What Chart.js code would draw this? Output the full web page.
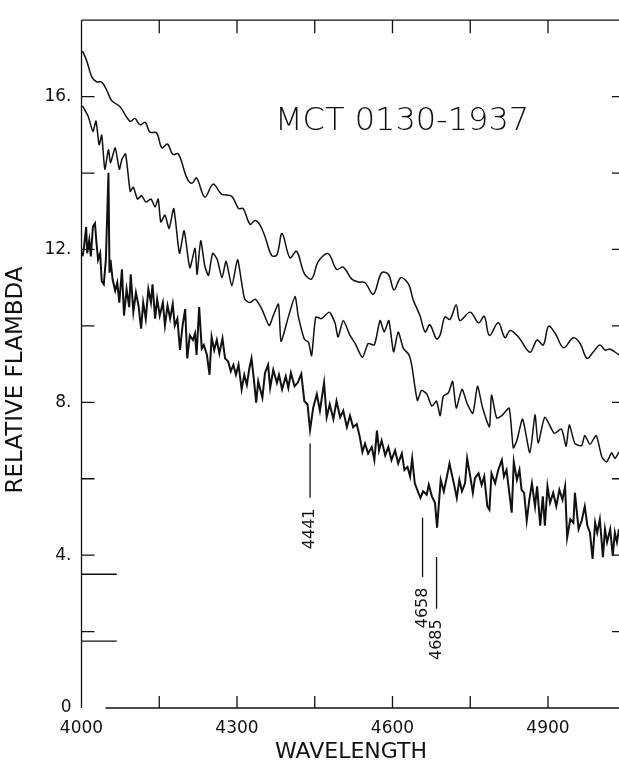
<!DOCTYPE html>
<html>
<head>
<meta charset="utf-8">
<script src="https://cdn.jsdelivr.net/npm/chart.js@4.4.1/dist/chart.umd.min.js"></script>
<style>
  html, body { margin: 0; padding: 0; background: #fff; }
  #wrap { width: 619px; height: 767px; position: relative; }
</style>
</head>
<body>
<div id="wrap"><canvas id="spectrumChart"></canvas></div>
<script>
// MCT 0130-1937 spectra: [wavelength, relative flambda]

// upper trace (low resolution)
const upperSpectrum = [
  [4002,17.19],[4010,16.94],[4020,16.51],[4029,16.39],[4039,16.38],[4049,16.16],[4058,15.90],
  [4074,15.74],[4094,15.35],[4103,15.43],[4113,15.26],[4123,15.33],[4132,15.07],[4145,15.05],
  [4155,14.66],[4166,14.76],[4176,14.49],[4187,14.50],[4203,13.88],[4213,13.73],[4222,13.87],
  [4238,13.37],[4254,13.71],[4270,13.45],[4290,13.39],[4303,13.07],[4312,13.07],[4325,12.66],
  [4335,12.76],[4344,12.65],[4354,12.34],[4367,11.84],[4377,11.86],[4387,12.42],[4402,11.78],
  [4415,11.95],[4430,11.37],[4444,11.23],[4457,11.69],[4476,11.89],[4492,11.48],[4505,11.54],
  [4521,11.23],[4534,11.15],[4547,11.13],[4563,10.83],[4579,11.39],[4592,11.35],[4603,10.94],
  [4616,11.26],[4631,11.09],[4640,10.68],[4653,10.27],[4663,9.84],[4672,10.03],[4685,9.66],
  [4692,9.77],[4701,10.23],[4711,10.17],[4723,10.55],[4730,10.14],[4750,10.36],[4766,10.08],
  [4777,10.25],[4787,9.75],[4804,10.08],[4817,9.69],[4827,9.88],[4843,9.71],[4865,9.31],
  [4879,9.63],[4891,9.50],[4901,9.99],[4914,9.80],[4930,9.43],[4949,9.69],[4962,9.54],
  [4975,9.15],[4987,9.31],[5000,9.50],[5010,9.37],[5020,9.39],[5037,9.24]
];

// middle trace
const middleSpectrum = [
  [4002,15.76],[4013,15.48],[4022,15.09],[4028,15.36],[4034,14.74],[4039,14.99],[4045,14.10],
  [4052,14.61],[4056,14.27],[4065,14.66],[4073,14.10],[4078,14.36],[4085,14.50],[4094,13.52],
  [4100,13.63],[4108,13.32],[4116,13.41],[4124,13.24],[4134,13.32],[4142,13.11],[4148,13.32],
  [4153,12.72],[4161,12.90],[4169,12.55],[4178,13.07],[4189,11.90],[4198,12.49],[4209,11.52],
  [4219,12.03],[4223,11.35],[4230,12.23],[4238,11.56],[4245,11.32],[4253,11.90],[4262,11.73],
  [4271,11.26],[4279,11.69],[4290,11.05],[4301,11.73],[4309,11.13],[4315,10.70],[4325,10.61],
  [4335,10.70],[4348,10.44],[4362,10.01],[4370,10.27],[4380,10.57],[4385,9.60],[4399,10.23],
  [4412,10.77],[4418,10.27],[4430,9.65],[4438,9.57],[4444,9.22],[4452,10.23],[4463,10.19],
  [4478,10.36],[4489,10.08],[4495,9.71],[4505,10.14],[4518,9.75],[4528,9.54],[4542,9.17],
  [4553,9.54],[4565,9.50],[4576,10.14],[4584,9.84],[4593,10.14],[4602,9.32],[4611,9.84],
  [4621,9.41],[4631,9.26],[4637,8.98],[4648,8.05],[4656,8.31],[4666,8.22],[4676,7.90],
  [4685,8.03],[4692,7.65],[4698,8.16],[4708,8.25],[4716,8.55],[4723,7.85],[4734,8.34],
  [4744,7.97],[4755,7.71],[4764,8.42],[4774,7.85],[4787,7.36],[4791,8.19],[4801,7.59],
  [4811,7.65],[4825,7.85],[4833,6.81],[4840,7.00],[4851,7.56],[4865,6.68],[4875,7.67],
  [4881,6.93],[4894,7.61],[4912,7.19],[4926,7.30],[4935,6.85],[4941,7.41],[4952,6.92],
  [4965,6.87],[4971,7.13],[4981,6.90],[4993,7.13],[5004,6.57],[5013,6.44],[5023,6.68],
  [5029,6.53],[5037,6.70]
];

// lower trace (high resolution, noisy)
const lowerSpectrum = [
  [4002,11.82],[4005,12.08],[4009,12.59],[4011,11.90],[4015,12.25],[4018,11.82],[4022,12.59],
  [4026,12.68],[4029,12.16],[4032,11.73],[4036,11.90],[4039,11.17],[4043,11.09],[4047,11.73],
  [4052,14.01],[4054,11.39],[4056,11.73],[4060,11.22],[4065,10.92],[4069,11.13],[4073,10.61],
  [4078,11.48],[4082,10.27],[4087,10.96],[4092,10.49],[4095,11.35],[4100,10.36],[4105,10.87],
  [4110,10.53],[4115,9.93],[4119,10.61],[4124,10.19],[4129,10.96],[4134,10.61],[4137,11.09],
  [4142,10.19],[4146,10.70],[4151,10.27],[4157,10.61],[4161,10.01],[4166,10.53],[4171,10.19],
  [4176,10.57],[4180,10.01],[4185,10.19],[4190,9.37],[4195,10.01],[4200,10.44],[4204,9.15],
  [4209,9.75],[4215,9.63],[4219,9.80],[4222,9.24],[4227,10.49],[4232,9.41],[4236,9.50],
  [4242,9.24],[4247,8.72],[4251,9.71],[4256,9.37],[4261,9.63],[4266,9.28],[4272,9.67],
  [4277,9.15],[4283,9.07],[4288,8.81],[4293,8.98],[4298,8.72],[4303,8.98],[4309,8.34],
  [4314,8.72],[4319,8.46],[4324,8.90],[4328,9.15],[4333,8.55],[4337,7.99],[4341,8.55],
  [4344,8.38],[4349,8.12],[4354,8.77],[4360,8.98],[4364,8.38],[4370,8.85],[4377,8.51],
  [4381,8.72],[4387,8.34],[4394,8.68],[4399,8.38],[4404,8.77],[4411,8.42],[4417,8.51],
  [4424,8.74],[4430,8.03],[4436,7.95],[4441,7.28],[4447,7.86],[4454,8.21],[4460,7.78],
  [4468,8.51],[4473,7.61],[4479,7.95],[4486,7.56],[4492,8.03],[4499,7.61],[4505,7.78],
  [4512,7.35],[4518,7.65],[4524,7.35],[4531,7.43],[4537,7.09],[4542,6.70],[4547,6.92],
  [4553,6.66],[4560,6.83],[4565,6.49],[4570,7.26],[4574,6.74],[4579,7.00],[4586,6.61],
  [4592,6.83],[4598,6.49],[4605,6.74],[4611,6.40],[4618,6.66],[4623,6.23],[4629,6.31],
  [4634,6.06],[4638,6.53],[4643,5.88],[4650,5.63],[4654,5.50],[4659,5.67],[4666,5.58],
  [4670,5.84],[4676,5.54],[4682,5.37],[4686,4.72],[4693,5.97],[4699,5.67],[4705,6.06],
  [4710,6.40],[4714,6.14],[4719,5.84],[4724,5.50],[4729,5.97],[4734,5.67],[4740,5.88],
  [4744,6.53],[4750,6.06],[4755,5.63],[4759,6.01],[4766,6.14],[4772,5.84],[4777,6.06],
  [4783,5.28],[4787,5.19],[4791,6.14],[4798,5.88],[4804,6.23],[4811,6.49],[4815,6.06],
  [4820,6.23],[4827,5.45],[4830,5.11],[4834,6.44],[4840,5.97],[4845,6.23],[4849,5.71],
  [4854,5.63],[4859,4.90],[4864,5.45],[4869,5.88],[4875,5.28],[4879,5.80],[4885,4.77],
  [4890,5.54],[4894,4.77],[4899,5.80],[4904,5.37],[4910,5.63],[4916,5.28],[4922,5.71],
  [4928,5.45],[4933,5.80],[4937,4.46],[4943,4.94],[4949,4.85],[4952,5.63],[4959,4.68],
  [4965,4.90],[4971,5.28],[4976,4.77],[4981,4.59],[4986,3.90],[4991,4.85],[4995,4.59],
  [5000,4.94],[5006,3.95],[5010,4.68],[5014,4.34],[5020,4.68],[5025,3.99],[5029,4.59],
  [5033,4.34],[5037,4.68]
];

// zero-level markers on the left axis
const zeroLevels = [3.5, 1.75];
const zeroLevelEnd = 4068;

// identified lines: wavelength, top and bottom of the marker bar
const lineWaves = [4441, 4658, 4685];
const lineTops = [6.92, 4.98, 3.95];
const lineBottoms = [5.50, 3.43, 2.60];

// axis ticks
const xTickLabels = [4000, 4300, 4600, 4900];
const xTickMarks = [4150, 4300, 4450, 4600, 4750, 4900];
const yTickLabels = [0, 4, 8, 12, 16];
const yTickMarks = [2, 4, 6, 8, 10, 12, 14, 16];

const INK = '#111';
const FONT = '"DejaVu Sans", sans-serif';

function toPoints(arr) {
  return arr.map(p => ({ x: p[0], y: p[1] }));
}

const datasets = [
  { data: toPoints(upperSpectrum), borderWidth: 1.5, tension: 0.35 },
  { data: toPoints(middleSpectrum), borderWidth: 1.5, tension: 0.2 },
  { data: toPoints(lowerSpectrum), borderWidth: 2, tension: 0 }
];
zeroLevels.forEach(v => {
  datasets.push({ data: [{ x: 4000, y: v }, { x: zeroLevelEnd, y: v }], borderWidth: 1.3, tension: 0 });
});
lineWaves.forEach((w, i) => {
  datasets.push({ data: [{ x: w, y: lineTops[i] }, { x: w, y: lineBottoms[i] }], borderWidth: 1.3, tension: 0 });
});
datasets.forEach(d => {
  d.borderColor = INK;
  d.pointRadius = 0;
  d.fill = false;
});

// frame, inward ticks and the loose text
const framePlugin = {
  id: 'frame',
  afterDraw(chart) {
    const ctx = chart.ctx;
    const a = chart.chartArea;
    const xs = chart.scales.x;
    const ys = chart.scales.y;
    ctx.save();
    ctx.strokeStyle = INK;
    ctx.lineWidth = 1.3;
    ctx.beginPath();
    ctx.moveTo(a.left, a.top); ctx.lineTo(a.left, a.bottom);
    ctx.moveTo(a.left, a.top); ctx.lineTo(a.right, a.top);
    ctx.moveTo(a.left + 24, a.bottom); ctx.lineTo(a.right, a.bottom);
    yTickMarks.forEach(v => {
      const py = ys.getPixelForValue(v);
      ctx.moveTo(a.left, py); ctx.lineTo(a.left + 13, py);
      ctx.moveTo(a.right - 7, py); ctx.lineTo(a.right, py);
    });
    xTickMarks.forEach(v => {
      const px = xs.getPixelForValue(v);
      ctx.moveTo(px, a.top); ctx.lineTo(px, a.top + 13);
      ctx.moveTo(px, a.bottom); ctx.lineTo(px, a.bottom - 12);
    });
    ctx.stroke();

    ctx.fillStyle = INK;
    // object name
    ctx.font = '200 32px ' + FONT;
    ctx.textAlign = 'left';
    ctx.textBaseline = 'alphabetic';
    ctx.fillText('MCT 0130-1937', 275, 130);

    // x title
    ctx.font = '22px ' + FONT;
    ctx.textAlign = 'center';
    ctx.textBaseline = 'middle';
    ctx.fillText('WAVELENGTH', 351, 752);

    // y title
    ctx.font = '23px ' + FONT;
    ctx.save();
    ctx.translate(16, 380);
    ctx.rotate(-Math.PI / 2);
    ctx.fillText('RELATIVE FLAMBDA', 0, 0);
    ctx.restore();

    // line identifications
    ctx.font = '16px ' + FONT;
    lineWaves.forEach((w, i) => {
      const px = xs.getPixelForValue(w);
      const py = ys.getPixelForValue(lineBottoms[i]) + 31;
      ctx.save();
      ctx.translate(px, py);
      ctx.rotate(-Math.PI / 2);
      ctx.fillText(String(w), 0, 0);
      ctx.restore();
    });
    ctx.restore();
  }
};

new Chart(document.getElementById('spectrumChart'), {
  type: 'line',
  data: { datasets: datasets },
  options: {
    responsive: true,
    maintainAspectRatio: false,
    animation: false,
    events: [],
    layout: { padding: { top: 10, right: 0, left: 0, bottom: 0 } },
    plugins: { legend: { display: false }, tooltip: { enabled: false } },
    scales: {
      x: {
        type: 'linear',
        min: 4000,
        max: 5037,
        grid: { display: false, drawTicks: false },
        border: { display: false },
        afterBuildTicks: s => { s.ticks = xTickLabels.map(v => ({ value: v })); },
        afterFit: s => { s.height = 59; },
        ticks: {
          color: INK,
          font: { family: FONT, size: 17 },
          padding: 10,
          maxRotation: 0,
          autoSkip: false,
          callback: v => String(v)
        }
      },
      y: {
        min: 0,
        max: 18,
        grid: { display: false, drawTicks: false },
        border: { display: false },
        afterBuildTicks: s => { s.ticks = yTickLabels.map(v => ({ value: v })); },
        afterFit: s => { s.width = 81.5; },
        ticks: {
          color: INK,
          font: { family: FONT, size: 17 },
          padding: 10,
          autoSkip: false,
          callback: v => (v === 0 ? '0' : v + '.')
        }
      }
    }
  },
  plugins: [framePlugin]
});
</script>
</body>
</html>
